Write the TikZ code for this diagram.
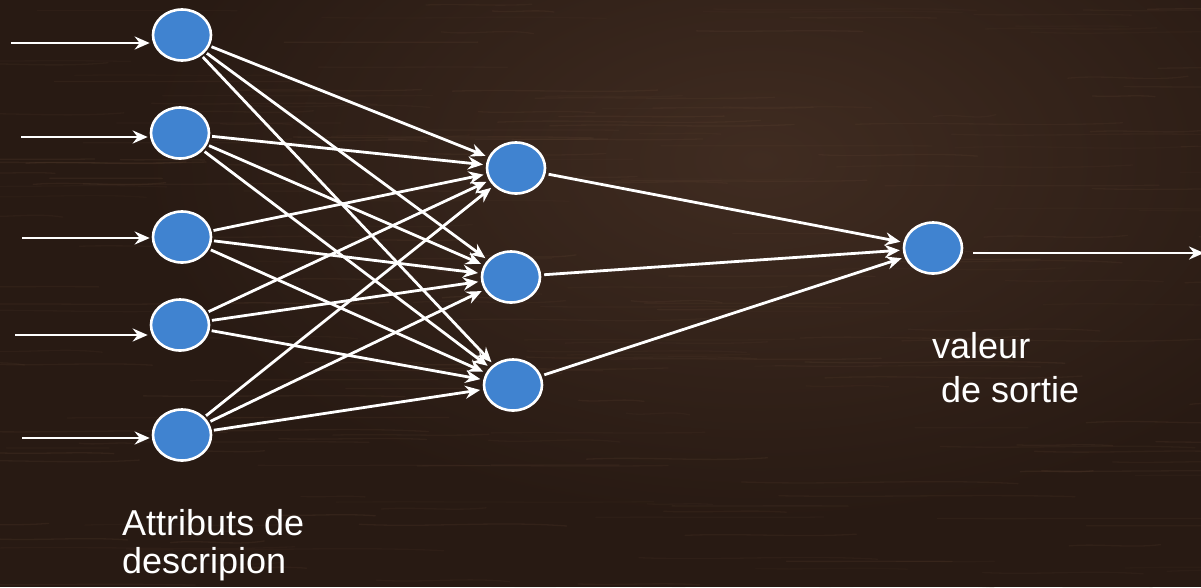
\documentclass[tikz,border=0pt]{standalone}
\usepackage{fontspec}
\setmainfont{Liberation Sans}
\usetikzlibrary{shapes.geometric,arrows.meta}
\definecolor{wood}{RGB}{40,26,19}
\definecolor{woodlight}{RGB}{64,44,33}
\definecolor{grain}{RGB}{110,80,60}
\definecolor{nodeblue}{RGB}{64,131,208}
\begin{document}
\begin{tikzpicture}[x=1pt,y=-1pt,
 neuron/.style={ellipse,draw=white,line width=2.6pt,fill=nodeblue,minimum width=58pt,minimum height=51pt,inner sep=0pt},
 link/.style={draw=white,line width=2.8pt,-{Stealth[length=15pt,width=13pt,inset=5pt]},shorten >=3pt},
 lbl/.style={text=white,font=\fontsize{36}{38}\selectfont,align=left,inner sep=0pt,anchor=base west}]
\useasboundingbox (0,0) rectangle (1201,587);
\fill[wood] (0,0) rectangle (1201,587);
\begin{scope}
\clip (0,0) rectangle (1201,587);
\shade[inner color=woodlight,outer color=wood] (760,160) ellipse (620pt and 360pt);
\pgfmathsetseed{11}
\foreach \n in {1,...,220}{
  \pgfmathsetmacro{\gx}{rnd*1300-100}
  \pgfmathsetmacro{\gy}{rnd*600}
  \pgfmathsetmacro{\gl}{60+rnd*260}
  \pgfmathsetmacro{\gd}{rnd*8-4}
  \pgfmathsetmacro{\go}{0.06+rnd*0.12}
  \draw[grain,line width=1.3pt,opacity=\go,line cap=round]
    (\gx,\gy) .. controls (\gx+\gl/3,\gy+\gd) and (\gx+2*\gl/3,\gy-\gd) .. (\gx+\gl,\gy+\gd/2);
}
\end{scope}
% nodes
\node[neuron] (i1) at (182,35) {};
\node[neuron] (i2) at (180,133) {};
\node[neuron] (i3) at (182,237) {};
\node[neuron] (i4) at (180,325) {};
\node[neuron] (i5) at (182,435) {};
\node[neuron] (h1) at (516,168) {};
\node[neuron] (h2) at (511,277) {};
\node[neuron] (h3) at (513,385) {};
\node[neuron] (o) at (933,248) {};
% input arrows
\coordinate (s1) at (11,43);
\coordinate (s2) at (21,137);
\coordinate (s3) at (22,238);
\coordinate (s4) at (15,335);
\coordinate (s5) at (22,438);
\foreach \k in {1,...,5}{
  \draw[link,shorten >=2pt] (s\k) -- (s\k -| i\k.west);
}
% input to hidden
\foreach \k in {1,...,5}{
  \foreach \h in {1,2,3}{
    \draw[link,shorten <=2pt] (i\k) -- (h\h);
  }
}
% hidden to output
\foreach \h in {1,2,3}{
  \draw[link,shorten <=3pt] (h\h) -- (o);
}
% output arrow
\coordinate (oe) at (1204,253);
\draw[link,shorten <=10pt,shorten >=0pt] (o.east |- oe) -- (oe);
% labels
\node[lbl] (t1) at (122,573) {Attributs de\\descripion};
\node[lbl] (t2) at (932,402) {valeur\\[6pt]\hspace*{9pt}de sortie};
\end{tikzpicture}
\end{document}
